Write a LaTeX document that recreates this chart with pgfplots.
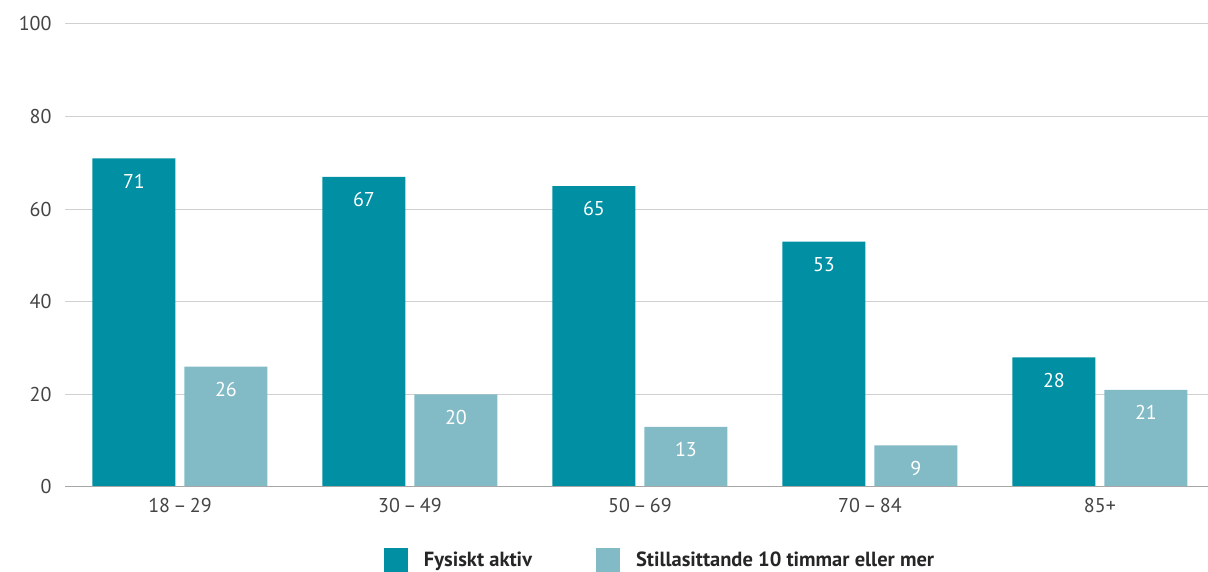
\documentclass[border=0pt]{standalone}
\usepackage{pgfplots}
\pgfplotsset{compat=1.18}
\usepackage{fontspec}
\setmainfont{PT Sans}
\definecolor{dark}{HTML}{008FA3}
\definecolor{light}{HTML}{82BBC6}
\definecolor{gridc}{HTML}{D0D0D0}
\definecolor{txt}{HTML}{444444}
\begin{document}
\begin{tikzpicture}
\useasboundingbox (0,0) rectangle (1208pt,572pt);
\begin{axis}[
  at={(65pt,85pt)}, anchor=south west,
  scale only axis, width=1143pt, height=463pt,
  ybar, bar width=83pt,
  ymin=0, ymax=100, ytick={0,20,40,60,80,100},
  xmin=-0.5, xmax=4.47,
  xtick={0,1,2,3,4},
  xticklabels={18\,–\,29,30\,–\,49,50\,–\,69,70\,–\,84,85+},
  ymajorgrids, grid style={gridc, line width=1pt},
  axis line style={draw=none},
  axis x line*=bottom, axis y line*=left,
  major tick length=0pt,
  tick label style={font=\fontsize{20}{23}\selectfont, text=txt},
  yticklabel style={xshift=-10pt},
  xticklabel style={yshift=-8pt},
  /pgf/number format/assume math mode=true,
  nodes near coords,
  every node near coord/.append style={font=\fontsize{20}{22}\selectfont, text=white, anchor=north, yshift=-12pt},
  legend style={at={(0.5206,-0.1577)}, anchor=center, draw=none, legend columns=2,
    font=\bfseries\fontsize{20.5}{24}\selectfont, text=black!85,
    /tikz/every odd column/.append style={column sep=14pt},
    /tikz/every even column/.append style={column sep=62pt}},
  legend image code/.code={\fill[#1] (0pt,-12pt) rectangle (24pt,12pt);},
]
\addplot[fill=dark, draw=none, bar shift=-46pt] coordinates {(0,71) (1,67) (2,65) (3,53) (4,28)};
\addplot[fill=light, draw=none, bar shift=46pt] coordinates {(0,26) (1,20) (2,13) (3,9) (4,21)};
\legend{Fysiskt aktiv, Stillasittande 10 timmar eller mer}
\draw[gridc!80!black, line width=1pt] (axis cs:-0.5,0) -- (axis cs:4.47,0);
\end{axis}
\end{tikzpicture}
\end{document}
